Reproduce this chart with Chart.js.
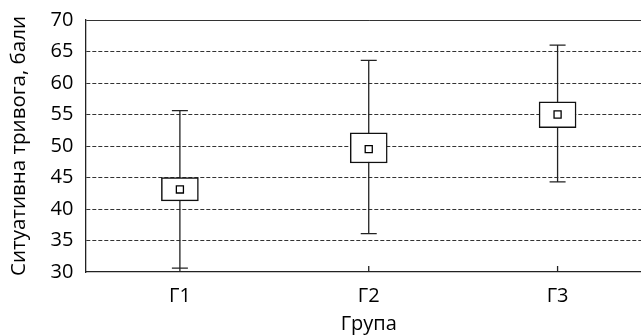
<!DOCTYPE html>
<html>
<head>
<meta charset="utf-8">
<script src="https://cdn.jsdelivr.net/npm/chart.js@4"></script>
<style>
  html, body { margin: 0; padding: 0; background: #fff; }
  #wrap { width: 641px; height: 336px; overflow: hidden; }
</style>
</head>
<body>
<div id="wrap"><canvas id="group-chart" width="662" height="336"></canvas></div>
<script>
//
// Group chart - data
//
const groupLabels = ['Г1', 'Г2', 'Г3'];
const groupMeans = [43.1, 49.5, 55.0];
const boxLow = [41.3, 47.3, 52.9];
const boxHigh = [45.0, 52.1, 57.0];
const whiskerLow = [30.6, 36.1, 44.3];
const whiskerHigh = [55.6, 63.6, 66.0];

const fontFamily = '"Open Sans", "Noto Sans", sans-serif';

// whiskers + inner x ticks, drawn under the boxes
const whiskerPlugin = {
    id: 'whiskers',
    beforeDatasetsDraw(chart) {
        const ctx = chart.ctx;
        const x = chart.scales.x;
        const y = chart.scales.y;
        ctx.save();
        ctx.strokeStyle = '#222';
        ctx.lineWidth = 1.3;
        for (let i = 0; i < groupLabels.length; i++) {
            const cx = x.getPixelForValue(i);
            const yTop = y.getPixelForValue(whiskerHigh[i]);
            const yBot = y.getPixelForValue(whiskerLow[i]);
            ctx.beginPath();
            ctx.moveTo(cx, yTop);
            ctx.lineTo(cx, yBot);
            ctx.moveTo(cx - 8, yTop);
            ctx.lineTo(cx + 8, yTop);
            ctx.moveTo(cx - 8, yBot);
            ctx.lineTo(cx + 8, yBot);
            // small tick pointing up from the x axis
            ctx.moveTo(cx, chart.chartArea.bottom);
            ctx.lineTo(cx, chart.chartArea.bottom - 6);
            ctx.stroke();
        }
        ctx.restore();
    }
};

let groupData = {
    labels: groupLabels,
    datasets: [{
        type: 'line',
        data: groupMeans,
        showLine: false,
        pointStyle: 'rect',
        pointRadius: 5,
        pointBackgroundColor: '#fff',
        pointBorderColor: '#000',
        pointBorderWidth: 1.3,
        order: 0
    }, {
        type: 'bar',
        data: groupLabels.map((g, i) => [boxLow[i], boxHigh[i]]),
        backgroundColor: '#fff',
        borderColor: '#111',
        borderWidth: 1.5,
        borderSkipped: false,
        barThickness: 37,
        order: 1
    }]
};

let groupOptions = {
    responsive: false,
    animation: false,
    layout: {
        padding: { top: 0, right: 10, left: 7, bottom: 0 }
    },
    scales: {
        x: {
            offset: true,
            grid: { display: false },
            border: { display: true, color: '#222', width: 1.3 },
            ticks: { color: '#000', font: { family: fontFamily, size: 20 }, padding: 4 },
            title: {
                display: true,
                text: 'Група',
                color: '#000',
                font: { family: fontFamily, size: 20 },
                padding: { top: 0, bottom: 0 }
            }
        },
        y: {
            min: 30,
            max: 70,
            ticks: {
                stepSize: 5,
                color: '#000',
                font: { family: fontFamily, size: 20, lineHeight: 0.8 },
                padding: 12
            },
            grid: {
                drawTicks: false,
                color: (c) => c.tick && c.tick.value === 30 ? 'rgba(0,0,0,0)' : '#333',
                lineWidth: 1
            },
            border: {
                display: true,
                color: '#222',
                width: 1.3,
                dash: (c) => c.tick && c.tick.value === 70 ? [] : [4, 2]
            },
            title: {
                display: true,
                text: 'Ситуативна тривога, бали',
                color: '#000',
                font: { family: fontFamily, size: 20.5 },
                padding: { top: 0, bottom: 7 }
            }
        }
    },
    plugins: {
        legend: { display: false },
        tooltip: { enabled: false }
    }
};

let groupChart = new Chart(document.getElementById('group-chart'), {
    type: 'bar',
    data: groupData,
    options: groupOptions,
    plugins: [whiskerPlugin]
});
</script>
</body>
</html>
